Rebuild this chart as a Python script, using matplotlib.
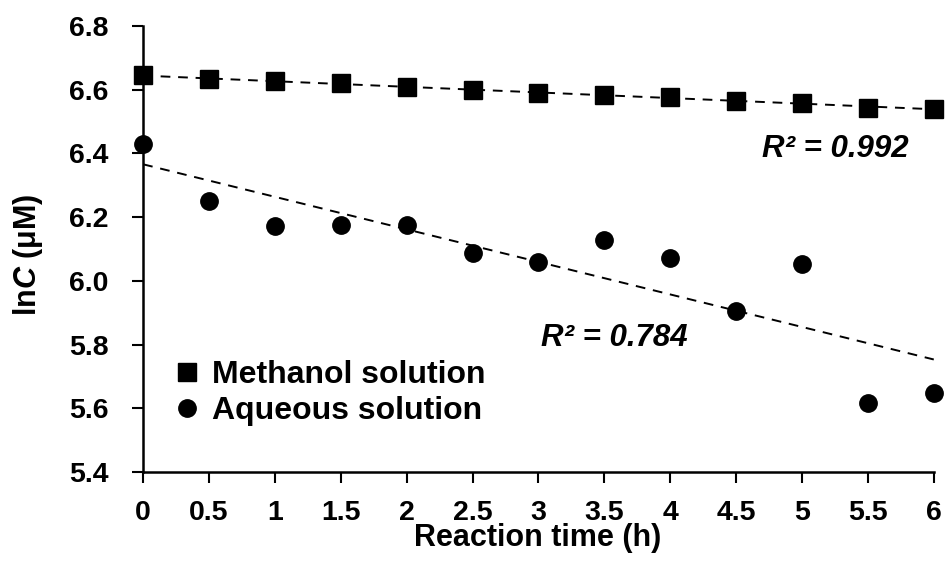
import numpy as np
import matplotlib.pyplot as plt

plt.rcParams['font.family'] = ['Liberation Sans', 'DejaVu Sans']
plt.rcParams['font.weight'] = 'bold'
plt.rcParams['mathtext.fontset'] = 'custom'
plt.rcParams['mathtext.it'] = 'Liberation Sans:italic:bold'
plt.rcParams['mathtext.rm'] = 'Liberation Sans:bold'

# reaction time (h) and ln of concentration
time_h = [0, 0.5, 1, 1.5, 2, 2.5, 3, 3.5, 4, 4.5, 5, 5.5, 6]
methanol = [6.646, 6.633, 6.627, 6.620, 6.608, 6.598, 6.590, 6.584, 6.576,
            6.565, 6.559, 6.544, 6.539]
aqueous = [6.429, 6.251, 6.172, 6.174, 6.175, 6.087, 6.059, 6.128, 6.072,
           5.906, 6.053, 5.617, 5.649]

x_ticks = [0, 0.5, 1, 1.5, 2, 2.5, 3, 3.5, 4, 4.5, 5, 5.5, 6]
x_labels = ['0', '0.5', '1', '1.5', '2', '2.5', '3', '3.5', '4', '4.5', '5', '5.5', '6']
y_ticks = [5.4, 5.6, 5.8, 6.0, 6.2, 6.4, 6.6, 6.8]

fig = plt.figure(figsize=(9.48, 5.72), dpi=100)
ax = fig.add_axes([0.151, 0.175, 0.834, 0.7795])

t = np.asarray(time_h)
xs = np.array([0, 6])
for vals, marker, ms, name in [(methanol, 's', 13.5, 'Methanol solution'),
                               (aqueous, 'o', 12.5, 'Aqueous solution')]:
    coef = np.polyfit(t, vals, 1)
    ax.plot(xs, np.polyval(coef, xs), color='black', lw=1.4,
            linestyle=(0, (5, 4)), zorder=2)
    ax.plot(t, vals, marker=marker, linestyle='none', color='black',
            markersize=ms, label=name, clip_on=False, zorder=3)

ax.text(4.70, 6.415, 'R² = 0.992', fontsize=22.5, fontstyle='italic',
        fontweight='bold', va='center', ha='left')
ax.text(3.02, 5.82, 'R² = 0.784', fontsize=22.5, fontstyle='italic',
        fontweight='bold', va='center', ha='left')

ax.set_xlim(0, 6)
ax.set_ylim(5.4, 6.8)
ax.set_xticks(x_ticks)
ax.set_xticklabels(x_labels)
ax.set_yticks(y_ticks)
ax.set_yticklabels([f'{v:.1f}' for v in y_ticks])
ax.tick_params(axis='both', direction='out', length=8, width=1.5,
               labelsize=20.5)
ax.tick_params(axis='x', pad=12)
ax.tick_params(axis='y', pad=17)

for side in ['top', 'right']:
    ax.spines[side].set_visible(False)
for side in ['left', 'bottom']:
    ax.spines[side].set_linewidth(1.8)

ax.set_xlabel('Reaction time (h)', fontsize=22, fontweight='bold')
ax.xaxis.set_label_coords(0.4987, -0.149)
ax.xaxis.label.set_verticalalignment('center')
ax.set_ylabel('ln$C$ (μM)', fontsize=22, fontweight='bold')
ax.yaxis.set_label_coords(-0.146, 0.4865)
ax.yaxis.label.set_verticalalignment('center')

ax.legend(loc='upper left', bbox_to_anchor=(0.0, 0.315), frameon=False,
          fontsize=23, handletextpad=0.3, labelspacing=0.18, borderpad=0.4,
          handlelength=0.95)

fig.savefig('out.png', dpi=100)
